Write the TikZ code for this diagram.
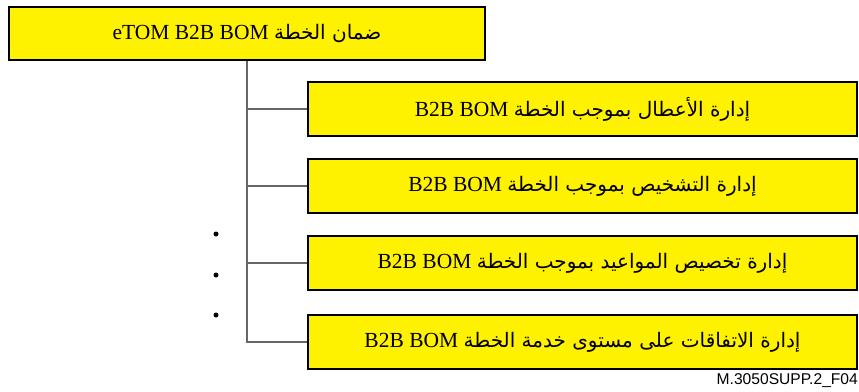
\documentclass[tikz,border=0pt]{standalone}
\usepackage{fontspec}
\setmainfont{Liberation Serif}
\newfontfamily\arabicfont[Script=Arabic,Scale=0.93]{DejaVu Sans}
\newfontfamily\labelfont{Liberation Sans}
\TeXXeTstate=1
\definecolor{boxyellow}{HTML}{FFF200}
\tikzset{
  ybox/.style={draw=black, line width=2.2pt, fill=boxyellow, inner sep=0pt,
    font=\fontsize{21.5}{25}\selectfont},
  conn/.style={draw=black!60, line width=1.1pt},
  dotmark/.style={circle, fill=black, inner sep=0pt, minimum size=5pt}
}
\newcommand{\AR}[1]{{\arabicfont #1}}
\begin{document}
\begin{tikzpicture}[x=1pt,y=-1pt]
\useasboundingbox (0,0) rectangle (859,391);
\node[ybox, minimum width=476pt, minimum height=53pt] (top) at (247,33.5)
  {\beginR\AR{ضمان الخطة} \beginL eTOM B2B BOM\endL\endR};
\node[ybox, minimum width=549pt, minimum height=54pt] (c1) at (582.5,109)
  {\beginR\AR{إدارة الأعطال بموجب الخطة} \beginL B2B BOM\endL\endR};
\node[ybox, minimum width=549pt, minimum height=54pt] (c2) at (582.5,186)
  {\beginR\AR{إدارة التشخيص بموجب الخطة} \beginL B2B BOM\endL\endR};
\node[ybox, minimum width=549pt, minimum height=54pt] (c3) at (582.5,263)
  {\beginR\AR{إدارة تخصيص المواعيد بموجب الخطة} \beginL B2B BOM\endL\endR};
\node[ybox, minimum width=549pt, minimum height=54pt] (c4) at (582.5,342)
  {\beginR\AR{إدارة الاتفاقات على مستوى خدمة الخطة} \beginL B2B BOM\endL\endR};
\coordinate (v4) at (247,342);
\draw[conn] (top.south) -- (v4) -- (c4.west);
\draw[conn] (c1.west -| v4) -- (c1.west);
\draw[conn] (c2.west -| v4) -- (c2.west);
\draw[conn] (c3.west -| v4) -- (c3.west);
\node[dotmark] (d1) at (216,234) {};
\node[dotmark] (d2) at (216,275) {};
\node[dotmark] (d3) at (216,315) {};
\node[anchor=east, inner sep=0pt, font=\labelfont\fontsize{15.6}{18}\selectfont] (lbl) at (858,381) {M.3050SUPP.2\_F04};
\end{tikzpicture}
\end{document}
